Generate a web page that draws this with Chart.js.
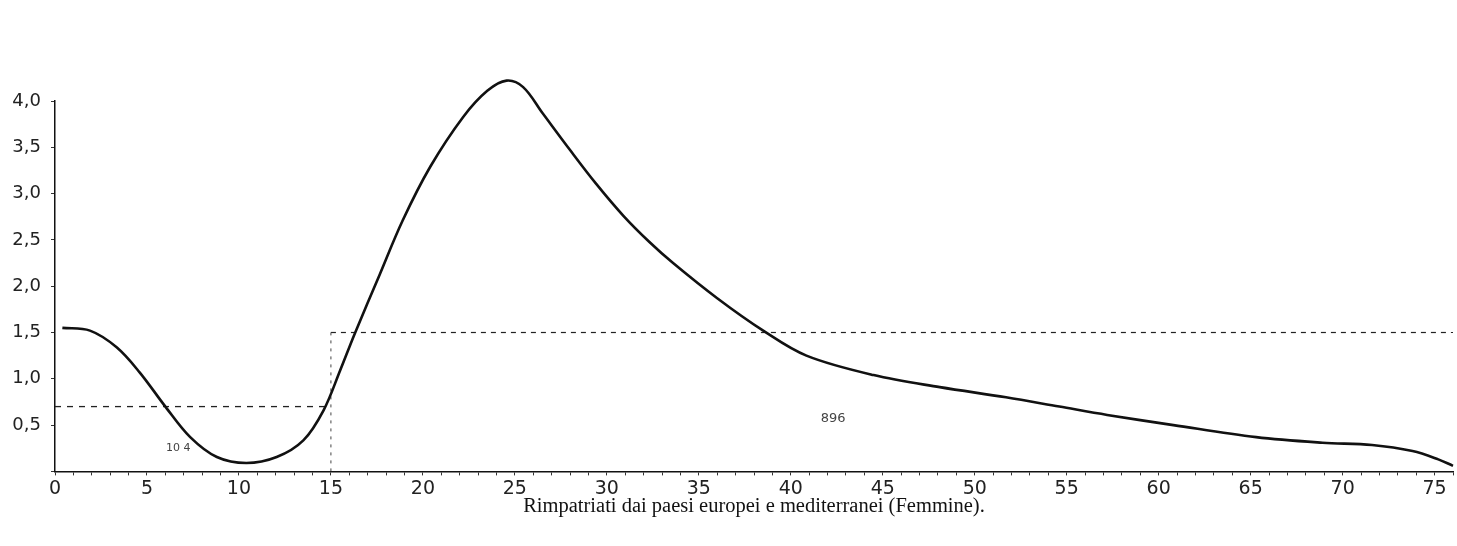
<!DOCTYPE html>
<html>
<head>
<meta charset="utf-8">
<script src="https://cdn.jsdelivr.net/npm/chart.js@4/dist/chart.umd.min.js"></script>
<style>
  html, body { margin: 0; padding: 0; background: #ffffff; }
  #wrap { width: 1457px; height: 546px; position: relative; }
</style>
</head>
<body>
<div id="wrap"><canvas id="c" width="1457" height="546"></canvas></div>
<script>
// Age (years) and value of the curve
const ages = [0.4, 1.9, 3.35, 4.6, 6.0, 7.35, 8.8, 10.4, 12.05, 13.5, 14.6, 15.5, 16.3, 17.66, 18.9, 20.4, 22.2, 23.5, 24.55, 25.45, 26.5, 28.0, 29.4, 30.9, 32.3, 33.6, 36.0, 38.5, 40.85, 44.5, 48.1, 51.7, 54.6, 57.2, 60.8, 65.3, 68.9, 71.6, 73.8, 75.2, 76.0];
const values = [1.55, 1.52, 1.34, 1.07, 0.70, 0.37, 0.155, 0.09, 0.155, 0.335, 0.66, 1.09, 1.49, 2.13, 2.71, 3.29, 3.83, 4.11, 4.22, 4.15, 3.87, 3.47, 3.11, 2.76, 2.48, 2.25, 1.87, 1.52, 1.25, 1.04, 0.91, 0.80, 0.70, 0.61, 0.50, 0.37, 0.31, 0.285, 0.22, 0.13, 0.06];

// Age groups (bounds) and their mean levels (dashed lines)
const groupBounds = [0, 15, 76];
const groupMeans = [0.7, 1.5];
const groupLabels = ['10 4', '896'];
const groupLabelPos = [[6.7, 0.25], [42.3, 0.57]];

// Axis ticks
const xTickLabels = [0, 5, 10, 15, 20, 25, 30, 35, 40, 45, 50, 55, 60, 65, 70, 75];
const yTickLabels = ['0,5', '1,0', '1,5', '2,0', '2,5', '3,0', '3,5', '4,0'];

const titleText = 'Rimpatriati dai paesi europei e mediterranei (Femmine).';

const curve = ages.map((a, i) => ({ x: a, y: values[i] }));
const lowMean = [{ x: groupBounds[0], y: groupMeans[0] }, { x: groupBounds[1], y: groupMeans[0] }];
const divider = [{ x: groupBounds[1], y: 0 }, { x: groupBounds[1], y: groupMeans[1] }];
const highMean = [{ x: groupBounds[1], y: groupMeans[1] }, { x: groupBounds[2], y: groupMeans[1] }];

const annotate = {
  id: 'annotate',
  afterDatasetsDraw(chart) {
    const { ctx, scales } = chart;
    ctx.save();
    ctx.fillStyle = '#444';
    ctx.textAlign = 'center';
    ctx.textBaseline = 'middle';
    groupLabels.forEach((t, i) => {
      ctx.font = (i === 0 ? '11px' : '13px') + ' "DejaVu Sans", sans-serif';
      ctx.fillText(t, scales.x.getPixelForValue(groupLabelPos[i][0]), scales.y.getPixelForValue(groupLabelPos[i][1]));
    });
    ctx.restore();
  }
};

new Chart(document.getElementById('c'), {
  type: 'line',
  data: {
    datasets: [
      { data: curve, borderColor: '#111', borderWidth: 2.6, pointRadius: 0, tension: 0.35, fill: false, clip: false },
      { data: lowMean, borderColor: '#222', borderWidth: 1.3, borderDash: [6, 6], pointRadius: 0, fill: false },
      { data: divider, borderColor: '#444', borderWidth: 1, borderDash: [3, 5], pointRadius: 0, fill: false },
      { data: highMean, borderColor: '#222', borderWidth: 1.2, borderDash: [5, 5], pointRadius: 0, fill: false }
    ]
  },
  options: {
    responsive: false,
    animation: false,
    events: [],
    layout: { padding: { top: 101, left: 0, right: 4, bottom: 27 } },
    plugins: {
      legend: { display: false },
      tooltip: { enabled: false },
      title: {
        display: true,
        text: titleText,
        position: 'bottom',
        fullSize: false,
        color: '#111',
        font: { family: '"Liberation Serif", "DejaVu Serif", serif', size: 20.5, weight: 'normal', lineHeight: 1.2 },
        padding: { top: 0, bottom: 0 }
      }
    },
    scales: {
      x: {
        type: 'linear',
        min: 0,
        max: 76,
        afterFit(scale) { scale.height = 23; },
        border: { display: true, color: '#111', width: 1.5 },
        grid: { display: true, drawOnChartArea: false, drawTicks: true, tickLength: 4, color: '#333', lineWidth: 1 },
        ticks: {
          stepSize: 1,
          autoSkip: false,
          maxRotation: 0,
          minRotation: 0,
          padding: 2,
          color: '#222',
          font: { family: '"DejaVu Sans", sans-serif', size: 19, weight: 'normal' },
          callback: (v) => xTickLabels.includes(v) ? String(v) : ''
        }
      },
      y: {
        type: 'linear',
        min: 0,
        max: 4,
        afterFit(scale) { scale.width = 55; },
        border: { display: true, color: '#111', width: 1.5 },
        grid: { display: true, drawOnChartArea: false, drawTicks: true, tickLength: 4, color: '#333', lineWidth: 1 },
        ticks: {
          stepSize: 0.5,
          padding: 10,
          color: '#222',
          font: { family: '"DejaVu Sans", sans-serif', size: 18, weight: 'normal' },
          callback: (v) => {
            const idx = Math.round(v / 0.5) - 1;
            return idx >= 0 && idx < yTickLabels.length ? yTickLabels[idx] : '';
          }
        }
      }
    }
  },
  plugins: [annotate]
});
</script>
</body>
</html>
